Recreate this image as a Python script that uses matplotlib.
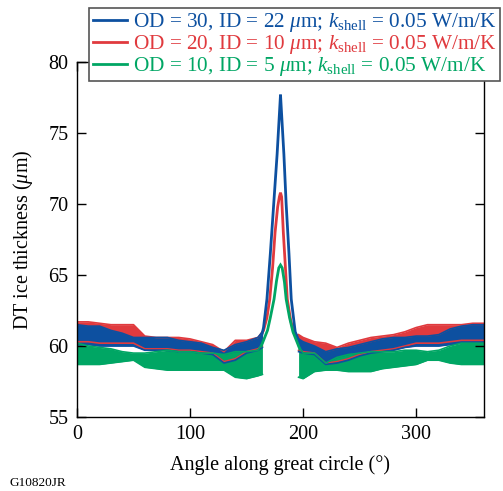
import numpy as np
import matplotlib
matplotlib.use("Agg")
import matplotlib.pyplot as plt
from matplotlib.lines import Line2D

plt.rcParams["font.family"] = ["Liberation Serif", "DejaVu Serif"]
plt.rcParams["mathtext.fontset"] = "custom"
plt.rcParams["mathtext.rm"] = "Liberation Serif"
plt.rcParams["mathtext.it"] = "Liberation Serif:italic"
plt.rcParams["font.size"] = 14

# baseline noise bands (deg, upper / lower envelope in um)
band_angle = [0, 10, 20, 30, 40, 50, 60, 70, 80, 90, 100, 110, 120, 130, 140, 150, 160, 164,
              196, 200, 210, 220, 230, 240, 250, 260, 270, 280, 290, 300, 310, 320, 330, 340, 350, 360]

blue_hi = [61.5, 61.4, 61.4, 61.1, 60.9, 60.6, 60.6, 60.6, 60.6, 60.4, 60.3, 60.2, 59.9, 59.7, 60.1, 60.3, 60.6, 61.0,
           60.5, 60.3, 60.0, 59.6, 59.8, 59.9, 60.1, 60.3, 60.5, 60.6, 60.6, 60.7, 60.7, 60.8, 61.2, 61.4, 61.5, 61.5]
blue_lo = [60.1, 60.1, 60.0, 60.0, 60.0, 60.0, 59.7, 59.7, 59.7, 59.6, 59.6, 59.5, 59.4, 58.8, 59.0, 59.5, 59.7, 59.9,
           59.6, 59.5, 59.4, 58.7, 58.8, 59.0, 59.3, 59.5, 59.6, 59.7, 59.9, 60.0, 60.0, 60.0, 60.1, 60.2, 60.2, 60.2]

red_hi = [61.7, 61.7, 61.6, 61.5, 61.5, 61.5, 60.7, 60.6, 60.6, 60.6, 60.5, 60.3, 60.1, 59.6, 60.4, 60.4, 60.6, 61.0,
          60.8, 60.6, 60.3, 60.2, 59.9, 60.2, 60.4, 60.6, 60.7, 60.8, 61.0, 61.3, 61.5, 61.5, 61.5, 61.5, 61.6, 61.6]
red_lo = [60.3, 60.3, 60.2, 60.2, 60.2, 60.2, 59.8, 59.8, 59.8, 59.7, 59.7, 59.6, 59.5, 58.9, 59.1, 59.6, 59.8, 60.0,
          59.7, 59.6, 59.5, 58.8, 58.9, 59.1, 59.4, 59.6, 59.7, 59.8, 60.0, 60.2, 60.2, 60.2, 60.3, 60.4, 60.4, 60.4]

green_hi = [60.2, 60.0, 59.9, 59.8, 59.6, 59.5, 59.5, 59.6, 59.7, 59.6, 59.6, 59.5, 59.5, 59.4, 59.6, 59.6, 59.7, 60.2,
            60.0, 59.5, 59.5, 58.8, 59.2, 59.4, 59.5, 59.6, 59.6, 59.6, 59.7, 59.7, 59.6, 59.7, 60.0, 60.2, 60.2, 60.2]
green_lo = [58.7, 58.7, 58.7, 58.8, 58.9, 59.0, 58.5, 58.4, 58.3, 58.3, 58.3, 58.3, 58.3, 58.3, 57.8, 57.7, 57.9, 58.0,
            57.8, 57.7, 58.2, 58.3, 58.3, 58.2, 58.2, 58.2, 58.4, 58.5, 58.6, 58.7, 59.0, 59.0, 58.8, 58.7, 58.7, 58.7]

# central peak traces
blue_peak_angle = [163, 165, 168, 171, 174, 177, 179, 180, 181, 183, 185, 187.5, 189.5, 193, 197]
blue_peak_val = [60.6, 61.3, 63.3, 66.5, 70.0, 73.5, 76.3, 77.7, 76.3, 73.5, 70.0, 66.5, 63.3, 61.0, 60.2]

red_peak_angle = [163, 165, 168, 170.5, 173, 175.2, 177.5, 179, 180, 181, 182.5, 184, 186, 189, 192, 197]
red_peak_val = [60.8, 61.1, 62.0, 63.3, 65.5, 68.0, 69.8, 70.5, 70.8, 70.5, 68.0, 66.0, 63.3, 61.8, 60.9, 60.6]

green_peak_angle = [163, 168.5, 171, 174.3, 176.5, 178.5, 180, 181.5, 183.5, 185, 188, 191, 197]
green_peak_val = [60.0, 61.1, 62.0, 63.3, 64.6, 65.5, 65.7, 65.5, 64.5, 63.3, 62.0, 61.0, 59.8]

labels = [r"OD = 30, ID = 22 $\mu$m; $k_{\rm shell}$ = 0.05 W/m/K",
          r"OD = 20, ID = 10 $\mu$m; $k_{\rm shell}$ = 0.05 W/m/K",
          r"OD = 10, ID = 5 $\mu$m; $k_{\rm shell}$ = 0.05 W/m/K"]
colors = ["#0D50A0", "#E03A3E", "#00A664"]


def draw_series(ax, hi, lo, pk_a, pk_v, color):
    a = np.array(band_angle)
    hi = np.array(hi)
    lo = np.array(lo)
    left = a <= 164
    right = a >= 196
    for m in (left, right):
        ax.fill_between(a[m], lo[m], hi[m], color=color, lw=0)
        ax.plot(a[m], hi[m], color=color, lw=1.2)
        ax.plot(a[m], lo[m], color=color, lw=1.2)
    ax.plot(pk_a, pk_v, color=color, lw=2.0, solid_joinstyle="miter")


fig = plt.figure(figsize=(5.03, 4.91), dpi=100)
ax = fig.add_axes([77 / 503, 1 - 417 / 491, (484 - 77) / 503, (417 - 62) / 491])

draw_series(ax, red_hi, red_lo, red_peak_angle, red_peak_val, colors[1])
draw_series(ax, blue_hi, blue_lo, blue_peak_angle, blue_peak_val, colors[0])
draw_series(ax, green_hi, green_lo, green_peak_angle, green_peak_val, colors[2])

ax.set_xlim(0, 360)
ax.set_ylim(55, 80)
ax.set_xticks([0, 100, 200, 300])
ax.set_yticks([55, 60, 65, 70, 75, 80])
ax.tick_params(direction="in", length=6.5, width=1, labelsize=14.5, right=True, top=True, pad=6)
for s in ax.spines.values():
    s.set_linewidth(1)
ax.set_xlabel("Angle along great circle (°)", fontsize=14.5, labelpad=8)
ax.set_ylabel(r"DT ice thickness ($\mu$m)", fontsize=14.5, labelpad=10)

handles = [Line2D([], [], color=c, lw=2) for c in colors]
leg = ax.legend(handles, labels, loc="upper right", bbox_to_anchor=(500 / 503, 1 - 8 / 491),
                bbox_transform=fig.transFigure, borderaxespad=0, fancybox=False,
                edgecolor="#555555", framealpha=1, handlelength=1.6, handletextpad=0.3,
                labelspacing=-0.05, borderpad=0.15, fontsize=15.3)
leg.get_frame().set_linewidth(1.2)
for t, c in zip(leg.get_texts(), colors):
    t.set_color(c)

fig.text(10 / 503, 1 - 483 / 491, "G10820JR", fontsize=9.5, va="center")

fig.savefig("out.png", dpi=100)
